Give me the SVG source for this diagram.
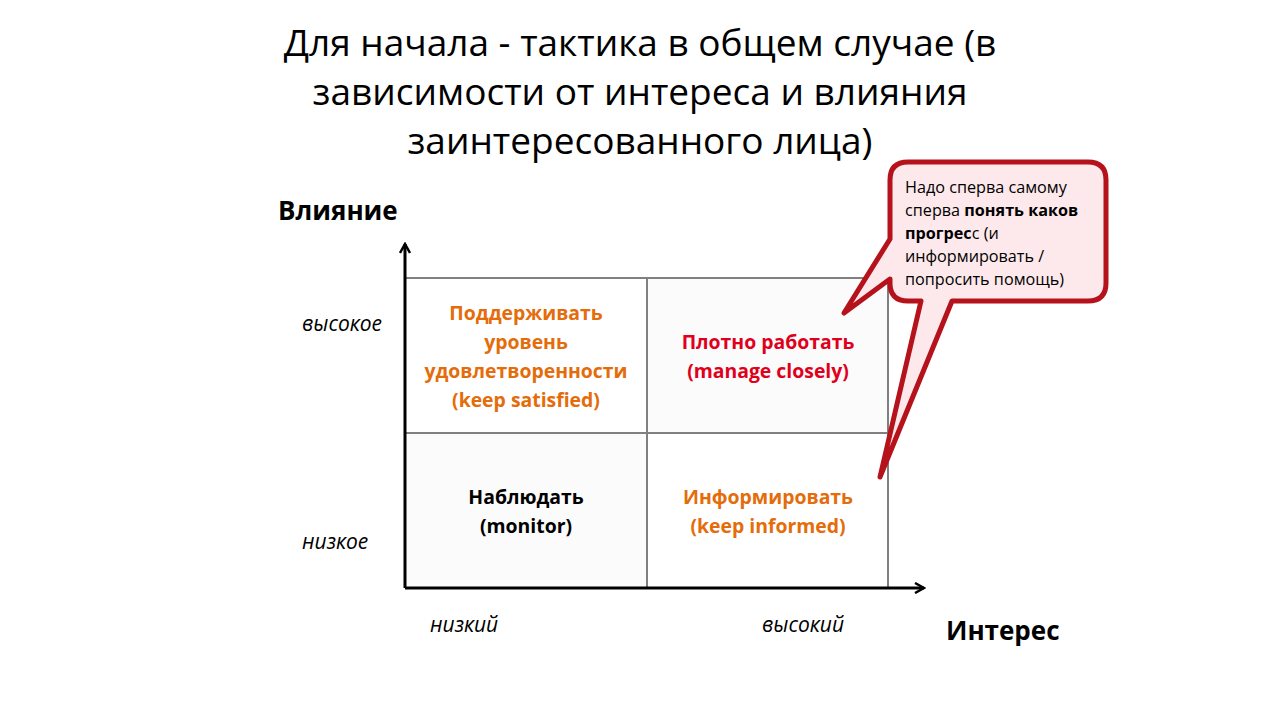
<svg xmlns="http://www.w3.org/2000/svg" width="1280" height="720" viewBox="0 0 1280 720">
<defs>
<style>
text{font-family:"Open Sans","Noto Sans","DejaVu Sans",sans-serif;}
.title{font-size:37px;fill:#000;text-anchor:middle;}
.axis{font-size:26px;font-weight:bold;fill:#000;}
.lvl{font-size:21px;font-style:italic;fill:#000;}
.q{font-size:19.4px;font-weight:bold;text-anchor:middle;}
.or{fill:#e46c0a;}
.rd{fill:#e0001b;}
.bk{fill:#000;}
.note{font-size:16.2px;fill:#000;}
.grid{stroke:#808080;stroke-width:2;fill:none;}
.ax{stroke:#000;stroke-width:3;fill:none;}
</style>
<marker id="arr" viewBox="0 0 12 12" refX="10" refY="6" markerWidth="12" markerHeight="12" markerUnits="userSpaceOnUse" orient="auto">
<path d="M1,1 L10,6 L1,11" fill="none" stroke="#000" stroke-width="2.5"/>
</marker>
</defs>
<rect width="1280" height="720" fill="#fff"/>
<g id="title">
<text class="title" x="640" y="56">Для начала - тактика в общем случае (в</text>
<text class="title" x="640" y="105">зависимости от интереса и влияния</text>
<text class="title" x="640" y="154">заинтересованного лица)</text>
</g>
<g id="grid">
<rect x="647" y="278" width="241" height="155" fill="#fbfbfb"/>
<rect x="405" y="433" width="242" height="155" fill="#fbfbfb"/>
<path class="grid" d="M405,278 H888 V588 M405,433 H888 M647,278 V588"/>
</g>
<g id="connectors">
<path class="ax" d="M405,588 V244" marker-end="url(#arr)"/>
<path class="ax" d="M405,588 H924" marker-end="url(#arr)"/>
</g>
<g id="axis-labels">
<text class="axis" x="278" y="220">Влияние</text>
<text class="axis" x="946" y="640">Интерес</text>
<text class="lvl" x="302" y="331">высокое</text>
<text class="lvl" x="302" y="549">низкое</text>
<text class="lvl" x="430" y="632">низкий</text>
<text class="lvl" x="762" y="632">высокий</text>
</g>
<g id="q-keep-satisfied">
<text class="q or" x="526" y="320">Поддерживать</text>
<text class="q or" x="526" y="349">уровень</text>
<text class="q or" x="526" y="378">удовлетворенности</text>
<text class="q or" x="526" y="407">(keep satisfied)</text>
</g>
<g id="q-manage-closely">
<text class="q rd" x="768" y="349">Плотно работать</text>
<text class="q rd" x="768" y="378">(manage closely)</text>
</g>
<g id="q-monitor">
<text class="q bk" x="526" y="504">Наблюдать</text>
<text class="q bk" x="526" y="533">(monitor)</text>
</g>
<g id="q-keep-informed">
<text class="q or" x="768" y="504">Информировать</text>
<text class="q or" x="768" y="533">(keep informed)</text>
</g>
<g id="callout">
<path d="M908,162 H1088 Q1106,162 1106,180 V283 Q1106,301 1088,301 H952 L880,477 L921,301 H908 Q890,301 890,283 V279 L844,313 L890,239 V180 Q890,162 908,162 Z" fill="#fde9ec" stroke="#b5121b" stroke-width="5" stroke-linejoin="round"/>
<text class="note" x="905" y="193">Надо сперва самому</text>
<text class="note" x="905" y="216">сперва <tspan font-weight="bold">понять каков</tspan></text>
<text class="note" x="905" y="239"><tspan font-weight="bold">прогрес</tspan>с (и</text>
<text class="note" x="905" y="262">информировать /</text>
<text class="note" x="905" y="285">попросить помощь)</text>
</g>
</svg>
